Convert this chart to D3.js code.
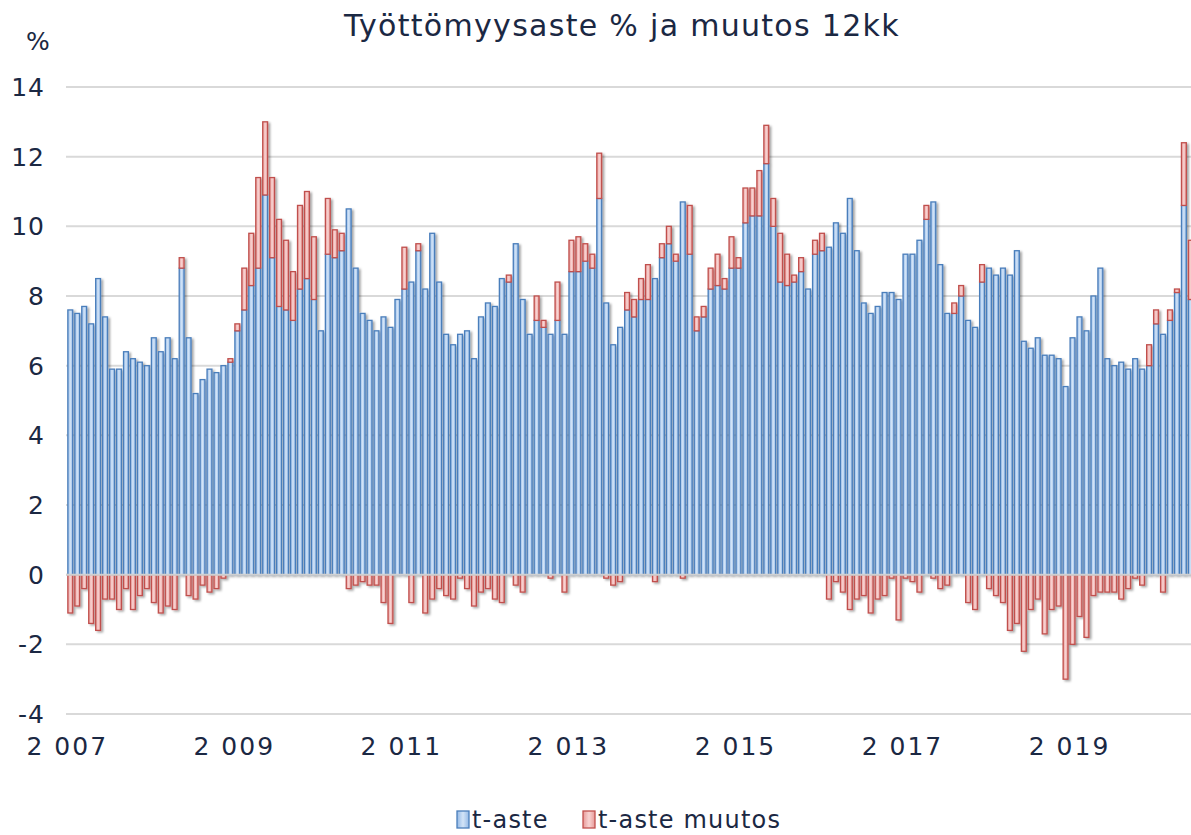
<!DOCTYPE html>
<html>
<head>
<meta charset="utf-8">
<title>Työttömyysaste % ja muutos 12kk</title>
<script src="https://d3js.org/d3.v7.min.js"></script>
<style>
  body { margin: 0; background: #fff; }
  text { font-family: "DejaVu Sans", Verdana, sans-serif; fill: #1b2843; }
</style>
</head>
<body>
<div id="chart"></div>
<script>
// monthly values from Jan 2007
const tAste = [
  7.6, 7.5, 7.7, 7.2, 8.5, 7.4, 5.9, 5.9, 6.4, 6.2, 6.1, 6.0, 6.8, 6.4, 6.8, 6.2,
  8.8, 6.8, 5.2, 5.6, 5.9, 5.8, 6.0, 6.1, 7.0, 7.6, 8.3, 8.8, 10.9, 9.1, 7.7, 7.6,
  7.3, 8.2, 8.5, 7.9, 7.0, 9.2, 9.1, 9.3, 10.5, 8.8, 7.5, 7.3, 7.0, 7.4, 7.1, 7.9,
  8.2, 8.4, 9.3, 8.2, 9.8, 8.4, 6.9, 6.6, 6.9, 7.0, 6.2, 7.4, 7.8, 7.7, 8.5,
  8.4, 9.5, 7.9, 6.9, 7.3, 7.1, 6.9, 7.3, 6.9, 8.7, 8.7, 9.0, 8.8, 10.8, 7.8, 6.6,
  7.1, 7.6, 7.4, 7.9, 7.9, 8.5, 9.1, 9.5, 9.0, 10.7, 9.2, 7.0, 7.4, 8.2, 8.3, 8.2,
  8.8, 8.8, 10.1, 10.3, 10.3, 11.8, 10.0, 8.4, 8.3, 8.4, 8.7, 8.2, 9.2, 9.3, 9.4, 10.1,
  9.8, 10.8, 9.3, 7.8, 7.5, 7.7, 8.1, 8.1, 7.9, 9.2, 9.2, 9.6, 10.2, 10.7, 8.9, 7.5,
  7.5, 8.0, 7.3, 7.1, 8.4, 8.8, 8.6, 8.8, 8.6, 9.3, 6.7, 6.5, 6.8, 6.3, 6.3, 6.2,
  5.4, 6.8, 7.4, 7.0, 8.0, 8.8, 6.2, 6.0, 6.1, 5.9, 6.2, 5.9, 6.0, 7.2, 6.9, 7.3, 8.1, 10.6, 7.9, 7.7
];
const tAsteMuutos = [
  -1.1, -0.9, -0.4, -1.4, -1.6, -0.7, -0.7, -1.0, -0.4, -1.0, -0.6, -0.4, -0.8, -1.1, -0.9, -1.0,
  0.3, -0.6, -0.7, -0.3, -0.5, -0.4, -0.1, 0.1, 0.2, 1.2, 1.5, 2.6, 2.1, 2.3, 2.5, 2.0,
  1.4, 2.4, 2.5, 1.8, 0, 1.6, 0.8, 0.5, -0.4, -0.3, -0.2, -0.3, -0.3, -0.8, -1.4, 0,
  1.2, -0.8, 0.2, -1.1, -0.7, -0.4, -0.6, -0.7, -0.1, -0.4, -0.9, -0.5, -0.4, -0.7, -0.8,
  0.2, -0.3, -0.5, 0, 0.7, 0.2, -0.1, 1.1, -0.5, 0.9, 1.0, 0.5, 0.4, 1.3, -0.1, -0.3,
  -0.2, 0.5, 0.5, 0.6, 1.0, -0.2, 0.4, 0.5, 0.2, -0.1, 1.4, 0.4, 0.3, 0.6, 0.9, 0.3,
  0.9, 0.3, 1.0, 0.8, 1.3, 1.1, 0.8, 1.4, 0.9, 0.2, 0.4, 0, 0.4, 0.5, -0.7, -0.2,
  -0.5, -1.0, -0.7, -0.6, -1.1, -0.7, -0.6, -0.1, -1.3, -0.1, -0.2, -0.5, 0.4, -0.1, -0.4, -0.3,
  0.3, 0.3, -0.8, -1.0, 0.5, -0.4, -0.6, -0.8, -1.6, -1.4, -2.2, -1.0, -0.7, -1.7, -1.0, -0.9,
  -3.0, -2.0, -1.2, -1.8, -0.6, -0.5, -0.5, -0.5, -0.7, -0.4, -0.1, -0.3, 0.6, 0.4, -0.5, 0.3, 0.1, 1.8, 1.7, 1.7
];
const months = d3.timeMonth.range(new Date(2007, 0, 1), new Date(2020, 7, 1));
const yTicks = [-4, -2, 0, 2, 4, 6, 8, 10, 12, 14];
const xTickYears = [2007, 2009, 2011, 2013, 2015, 2017, 2019];
const seriesNames = ["t-aste", "t-aste muutos"];

const width = 1191, height = 835;
const step = 6.96;
const left = 66.8;

const svg = d3.select("#chart").append("svg")
  .attr("width", width).attr("height", height);

const defs = svg.append("defs");
function grad(id, edge, mid) {
  const g = defs.append("linearGradient").attr("id", id)
    .attr("x1", "0").attr("x2", "1").attr("y1", "0").attr("y2", "0");
  g.append("stop").attr("offset", "0%").attr("stop-color", edge);
  g.append("stop").attr("offset", "50%").attr("stop-color", mid);
  g.append("stop").attr("offset", "100%").attr("stop-color", edge);
}
grad("gBlue", "#94b9e6", "#d3e4f7");
grad("gRed", "#e89a98", "#f8d4d3");
defs.append("filter").attr("id", "shadow")
  .attr("x", "-50%").attr("y", "-5%").attr("width", "200%").attr("height", "110%")
  .append("feDropShadow")
  .attr("dx", 2).attr("dy", 1.5).attr("stdDeviation", 1)
  .attr("flood-color", "#000").attr("flood-opacity", 0.35);

const x = d3.scaleBand()
  .domain(months.map((d, i) => i))
  .range([left, left + months.length * step])
  .paddingInner(0.3).paddingOuter(0.15);

const y = d3.scaleLinear().domain([-4, 14]).range([714, 87]);

// gridlines
svg.append("g").selectAll("line").data(yTicks).join("line")
  .attr("x1", 66).attr("x2", width)
  .attr("y1", d => y(d)).attr("y2", d => y(d))
  .attr("stroke", "#d9d9d9").attr("stroke-width", 2);

// y labels
svg.append("g").selectAll("text").data(yTicks).join("text")
  .attr("x", 45).attr("y", d => y(d)).attr("dy", "0.36em")
  .attr("text-anchor", "end").attr("font-size", 25)
  .attr("letter-spacing", 1)
  .text(d => d);

svg.append("text").attr("x", 38).attr("y", 50)
  .attr("text-anchor", "middle").attr("font-size", 25).text("%");

// stacked bars
const rows = months.map((m, i) => ({ i, a: tAste[i], b: tAsteMuutos[i] }));
const stack = d3.stack().keys(["a", "b"]).offset(d3.stackOffsetDiverging);
const layers = stack(rows);
const fills = ["url(#gBlue)", "url(#gRed)"];
const strokes = ["#4a7ebb", "#c0504d"];

const bars = svg.append("g").attr("filter", "url(#shadow)");
layers.forEach((layer, k) => {
  bars.append("g").selectAll("rect")
    .data(layer.filter(d => d[1] !== d[0]))
    .join("rect")
    .attr("x", d => x(d.data.i))
    .attr("width", x.bandwidth())
    .attr("y", d => y(Math.max(d[0], d[1])))
    .attr("height", d => Math.abs(y(d[0]) - y(d[1])))
    .attr("fill", fills[k])
    .attr("stroke", strokes[k])
    .attr("stroke-width", 1.3);
});

// zero line
svg.append("line").attr("x1", 66).attr("x2", width)
  .attr("y1", y(0)).attr("y2", y(0))
  .attr("stroke", "#d0d0d0").attr("stroke-width", 2);

// x labels
const fmtYear = d3.format(",");
svg.append("g").selectAll("text").data(xTickYears).join("text")
  .attr("x", d => x((d - 2007) * 12) + x.bandwidth() / 2 - 3)
  .attr("y", 755)
  .attr("text-anchor", "middle").attr("font-size", 25)
  .attr("letter-spacing", 2)
  .text(d => fmtYear(d).replace(",", " "));

// title
svg.append("text").attr("x", 622).attr("y", 36)
  .attr("text-anchor", "middle").attr("font-size", 30)
  .attr("letter-spacing", 1.3)
  .text("Työttömyysaste % ja muutos 12kk");

// legend
const legend = svg.append("g");
const legendX = [457, 583];
seriesNames.forEach((name, k) => {
  legend.append("rect")
    .attr("x", legendX[k]).attr("y", 811).attr("width", 12).attr("height", 17)
    .attr("fill", fills[k]).attr("stroke", strokes[k]).attr("stroke-width", 1.3);
  legend.append("text")
    .attr("x", legendX[k] + 15).attr("y", 828)
    .attr("font-size", 24).attr("letter-spacing", 1.2)
    .text(name);
});
</script>
</body>
</html>
